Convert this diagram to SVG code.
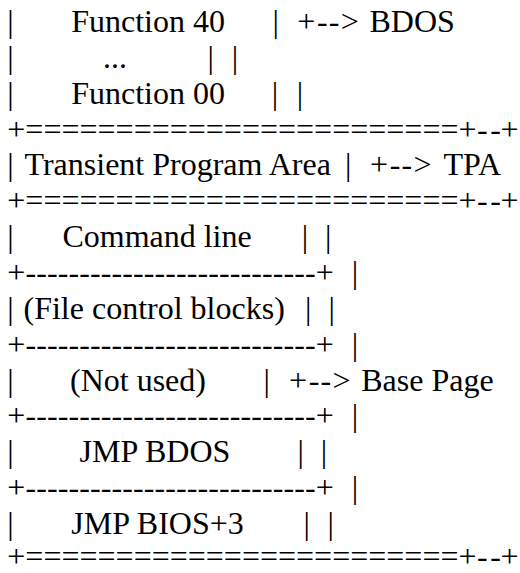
<svg xmlns="http://www.w3.org/2000/svg" width="520" height="573" viewBox="0 0 520 573">
<style>
text { font-family: "Liberation Serif", "Times New Roman", serif; font-size: 32px; fill: #000; }
</style>
<rect width="520" height="573" fill="#fff"/>
<g id="bdos-block">
  <text x="7.3" y="32">|</text><text x="71.2" y="32">Function 40</text>
  <text x="7.3" y="67.85">|</text><text x="103" y="67.85">...</text>
  <text x="7.3" y="103.7">|</text><text x="71.2" y="103.7">Function 00</text>
</g>
<g id="tpa">
  <text x="7.3" y="175.4">|</text><text x="24.5" y="175.4">Transient Program Area</text>
</g>
<g id="command-line">
  <text x="7.3" y="247.1">|</text><text x="62.4" y="247.1">Command line</text>
</g>
<g id="fcb">
  <text x="7.3" y="318.8">|</text><text x="23.5" y="318.8">(File control blocks)</text>
</g>
<g id="not-used">
  <text x="7.3" y="390.5">|</text><text x="70" y="390.5">(Not used)</text>
</g>
<g id="jmp-bdos">
  <text x="7.3" y="462.2">|</text><text x="79.5" y="462.2">JMP BDOS</text>
</g>
<g id="jmp-bios">
  <text x="7.3" y="533.9">|</text><text x="71.3" y="533.9">JMP BIOS+3</text>
</g>
<g id="borders">
  <text x="7.3" y="139.55">+========================+</text><text x="477 490.3 500.5" y="139.55">--+</text>
  <text x="7.3" y="211.25">+========================+</text><text x="477 490.3 500.5" y="211.25">--+</text>
  <text x="7.3" y="282.95" textLength="326.4" lengthAdjust="spacing">+---------------------------+</text>
  <text x="7.3" y="354.65" textLength="326.4" lengthAdjust="spacing">+---------------------------+</text>
  <text x="7.3" y="426.35" textLength="326.4" lengthAdjust="spacing">+---------------------------+</text>
  <text x="7.3" y="498.05" textLength="326.4" lengthAdjust="spacing">+---------------------------+</text>
  <text x="7.3" y="566.5">+========================+</text><text x="477 490.3 500.5" y="566.5">--+</text>
</g>
<g id="connectors">
  <text x="272.5" y="32">|</text><text x="297.3 317 328.8 340.7" y="32">+--&gt;</text>
  <text x="207.5" y="67.85">|</text><text x="231.8" y="67.85">|</text>
  <text x="271.8" y="103.7">|</text><text x="296.8" y="103.7">|</text>
  <text x="345" y="175.4">|</text><text x="370 389.7 401.5 413.4" y="175.4">+--&gt;</text>
  <text x="301.8" y="247.1">|</text><text x="325.1" y="247.1">|</text>
  <text x="351.8" y="282.95">|</text>
  <text x="305.1" y="318.8">|</text><text x="328.5" y="318.8">|</text>
  <text x="351.8" y="354.65">|</text>
  <text x="263.5" y="390.5">|</text><text x="289 308.7 320.5 332.4" y="390.5">+--&gt;</text>
  <text x="351.8" y="426.35">|</text>
  <text x="297.5" y="462.2">|</text><text x="320.8" y="462.2">|</text>
  <text x="351.8" y="498.05">|</text>
  <text x="303.5" y="533.9">|</text><text x="327.5" y="533.9">|</text>
</g>
<g id="labels">
  <text x="369.5" y="32">BDOS</text>
  <text x="443.5" y="175.4">TPA</text>
  <text x="361.2" y="390.5">Base Page</text>
</g>
</svg>
